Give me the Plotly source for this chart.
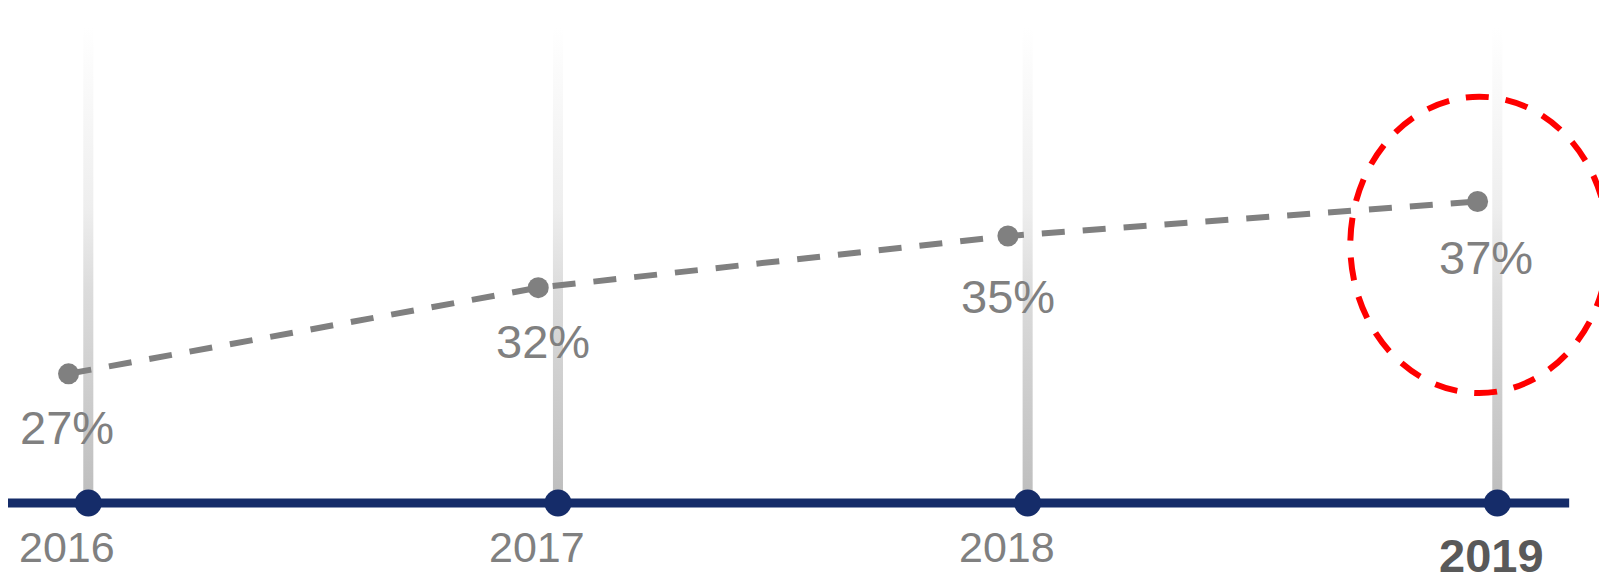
import plotly.graph_objects as go

# ---- data ----
YEARS = [2016, 2017, 2018, 2019]
SHARE = [27, 32, 35, 37]            # percent
SHARE_LABELS = ["27%", "32%", "35%", "37%"]
YEAR_LABELS = ["2016", "2017", "2018", "<b>2019</b>"]

# ---- styling / layout constants ----
# the page body adds an 8px margin, so the figure is 8px smaller
W, H = 1599, 568
NAVY = "#152c69"
GREY = "#808080"
BASE = 19.5          # timeline level on the value axis
BAR_TOP = 47.1       # top of the faded vertical guides
BAR_HALF = 0.0107    # half width of guides (x units)
PT_OFF = -0.042      # grey series drawn slightly left of the guides
X_RANGE = [2015.82903, 2019.23355]
Y_RANGE = [15.266, 48.232]

fig = go.Figure()

# faded vertical guide bars (vertical gradient fill)
gx, gy = [], []
for yr in YEARS:
    gx += [yr - BAR_HALF, yr + BAR_HALF, yr + BAR_HALF, yr - BAR_HALF, yr - BAR_HALF, None]
    gy += [BASE, BASE, BAR_TOP, BAR_TOP, BASE, None]
fig.add_trace(go.Scatter(
    x=gx, y=gy, mode="none", fill="toself",
    fillgradient=dict(type="vertical", start=BASE, stop=BAR_TOP,
                      colorscale=[[0, "#bdbdbd"], [0.45, "#dcdcdc"],
                                  [0.62, "#eeeeee"], [1, "#ffffff"]]),
    hoverinfo="skip", showlegend=False))

# timeline line
fig.add_trace(go.Scatter(
    x=[YEARS[0] - 0.173, YEARS[-1] + 0.153], y=[BASE, BASE], mode="lines",
    line=dict(color=NAVY, width=9), hoverinfo="skip", showlegend=False))

# timeline dots
fig.add_trace(go.Scatter(
    x=YEARS, y=[BASE] * len(YEARS), mode="markers",
    marker=dict(color=NAVY, size=27), cliponaxis=False,
    hoverinfo="skip", showlegend=False))

# grey dashed series
fig.add_trace(go.Scatter(
    x=[yr + PT_OFF for yr in YEARS], y=SHARE, mode="lines+markers",
    line=dict(color=GREY, width=6, dash="23px,18px"),
    marker=dict(color=GREY, size=21), cliponaxis=False,
    hoverinfo="skip", showlegend=False))

# value labels
LABEL_DX = [-1.5, 4.7, -0.3, 8.3]
LABEL_DY = [54, 54, 60.7, 56]
for yr, v, t, dx, dy in zip(YEARS, SHARE, SHARE_LABELS, LABEL_DX, LABEL_DY):
    fig.add_annotation(x=yr + PT_OFF, y=v, text=t, showarrow=False,
                       xanchor="center", yanchor="middle", xshift=dx, yshift=-dy,
                       font=dict(family="Liberation Sans, Arial", size=47, color=GREY))

# year labels
for i, (yr, t) in enumerate(zip(YEARS, YEAR_LABELS)):
    last = i == len(YEARS) - 1
    fig.add_annotation(x=yr, y=BASE, text=t, showarrow=False,
                       xanchor="center", yanchor="middle",
                       xshift=-6 if last else -21, yshift=-52 if last else -44,
                       font=dict(family="Liberation Sans, Arial",
                                 size=47 if last else 43,
                                 color="#595959" if last else GREY))

# red dashed highlight ellipse around the latest value
fig.add_shape(type="circle", xref="x", yref="y",
              xsizemode="pixel", ysizemode="pixel",
              xanchor=YEARS[-1], yanchor=SHARE[-1],
              x0=-147, x1=111, y0=-191.5, y1=104.8,
              line=dict(color="#ff0000", width=6, dash="23px,17px"),
              fillcolor="rgba(0,0,0,0)", layer="above")

fig.update_layout(
    width=W, height=H,
    margin=dict(l=0, r=0, t=0, b=0),
    paper_bgcolor="white", plot_bgcolor="white",
    showlegend=False,
    xaxis=dict(range=X_RANGE, visible=False, fixedrange=True),
    yaxis=dict(range=Y_RANGE, visible=False, fixedrange=True),
)

fig.write_html("out.html")
